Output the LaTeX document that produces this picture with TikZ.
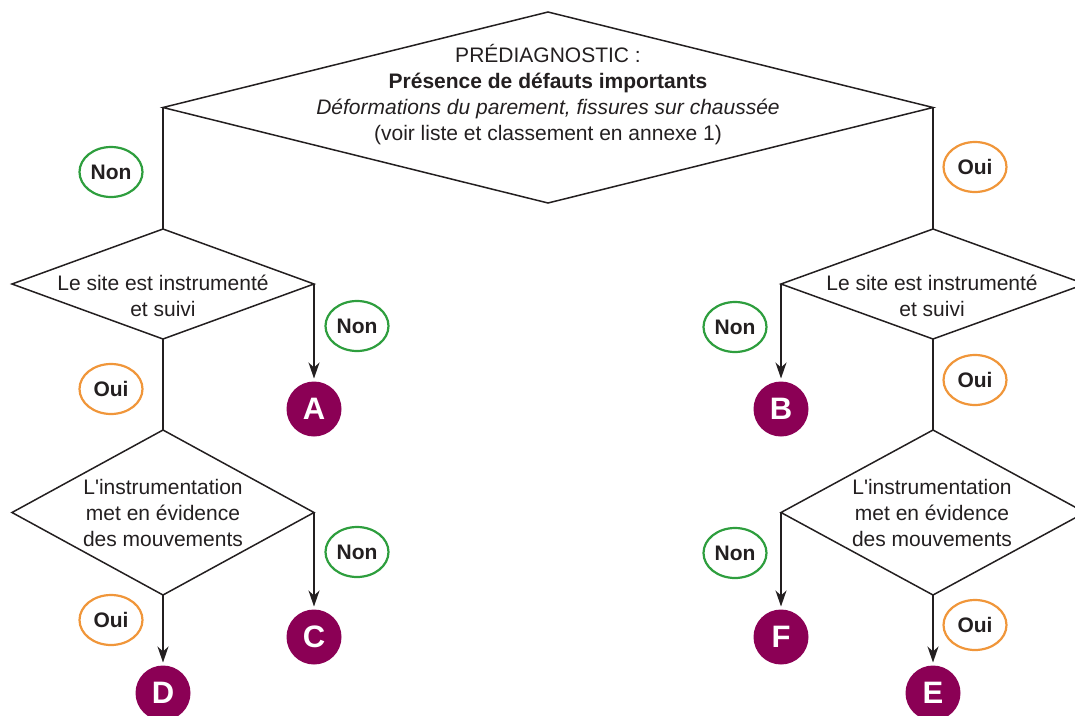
\documentclass[tikz,border=0pt]{standalone}
\usepackage{fontspec}
\setmainfont{Liberation Sans}
\usetikzlibrary{shapes.geometric,arrows.meta}
\definecolor{ink}{HTML}{231F20}
\definecolor{nongreen}{HTML}{2E9E3E}
\definecolor{ouiorange}{HTML}{F0963A}
\definecolor{endpurple}{HTML}{8B0055}
\tikzset{
  dia/.style={diamond, draw=ink, line width=1.5pt, inner sep=0pt, outer sep=0pt},
  diatext/.style={align=center, text=ink, font=\fontsize{21}{26}\selectfont, inner sep=0pt},
  nonlbl/.style={ellipse, draw=nongreen, line width=2.2pt, minimum width=63pt, minimum height=50pt,
    inner sep=0pt, text=ink, font=\fontsize{21}{24}\selectfont\bfseries},
  ouilbl/.style={ellipse, draw=ouiorange, line width=2.2pt, minimum width=63pt, minimum height=50pt,
    inner sep=0pt, text=ink, font=\fontsize{21}{24}\selectfont\bfseries},
  endpt/.style={circle, fill=endpurple, minimum size=55pt, inner sep=0pt, outer sep=0pt,
    text=white, font=\fontsize{31}{31}\selectfont\bfseries},
  link/.style={draw=ink, line width=1.5pt},
  arrowlink/.style={link, -{Stealth[length=16pt, width=11pt, inset=5pt]}, shorten >=3pt},
}
\begin{document}
\begin{tikzpicture}[x=1pt, y=-1pt]
\useasboundingbox (0,0) rectangle (1075,715);
\clip (0,0) rectangle (1075,715);

% decision diamonds
\node[dia, minimum width=770pt, minimum height=191pt] (d0) at (548,107.5) {};
\node[diatext] (t0) at (548,95) {PRÉDIAGNOSTIC :\\ \textbf{Présence de défauts importants}\\
  \textit{Déformations du parement, fissures sur chaussée}\\ (voir liste et classement en annexe 1)};

\node[dia, minimum width=302pt, minimum height=110pt] (d1) at (163,284) {};
\node[diatext] (t1) at (163,296) {Le site est instrumenté\\ et suivi};
\node[dia, minimum width=302pt, minimum height=165pt] (d2) at (163,512.5) {};
\node[diatext] (t2) at (163,513) {L\textquotesingle instrumentation\\ met en évidence\\ des mouvements};

\node[dia, minimum width=304pt, minimum height=110pt] (d3) at (933,284) {};
\node[diatext] (t3) at (932,296) {Le site est instrumenté\\ et suivi};
\node[dia, minimum width=304pt, minimum height=165pt] (d4) at (933,512.5) {};
\node[diatext] (t4) at (932,513) {L\textquotesingle instrumentation\\ met en évidence\\ des mouvements};

% outcomes
\node[endpt] (A) at (314,409) {A};
\node[endpt] (C) at (314,637) {C};
\node[endpt] (D) at (163,693) {D};
\node[endpt] (B) at (781,409) {B};
\node[endpt] (F) at (781,637) {F};
\node[endpt] (E) at (933,693) {E};

% connectors
\draw[link] (d0.west) -- (d1.north);
\draw[link] (d1.south) -- (d2.north);
\draw[arrowlink] (d1.east) -- (A.north);
\draw[arrowlink] (d2.east) -- (C.north);
\draw[arrowlink] (d2.south) -- (D.north);
\draw[link] (d0.east) -- (d3.north);
\draw[link] (d3.south) -- (d4.north);
\draw[arrowlink] (d3.west) -- (B.north);
\draw[arrowlink] (d4.west) -- (F.north);
\draw[arrowlink] (d4.south) -- (E.north);

% answer labels
\node[nonlbl] (n0) at (111,172) {Non};
\node[ouilbl] (o0) at (975,167) {Oui};
\node[nonlbl] (n1) at (357,326) {Non};
\node[ouilbl] (o1) at (111,389) {Oui};
\node[nonlbl] (n2) at (357,552) {Non};
\node[ouilbl] (o2) at (111,620) {Oui};
\node[nonlbl] (n3) at (735,327) {Non};
\node[ouilbl] (o3) at (975,380) {Oui};
\node[nonlbl] (n4) at (735,553) {Non};
\node[ouilbl] (o4) at (975,625) {Oui};
\end{tikzpicture}
\end{document}
